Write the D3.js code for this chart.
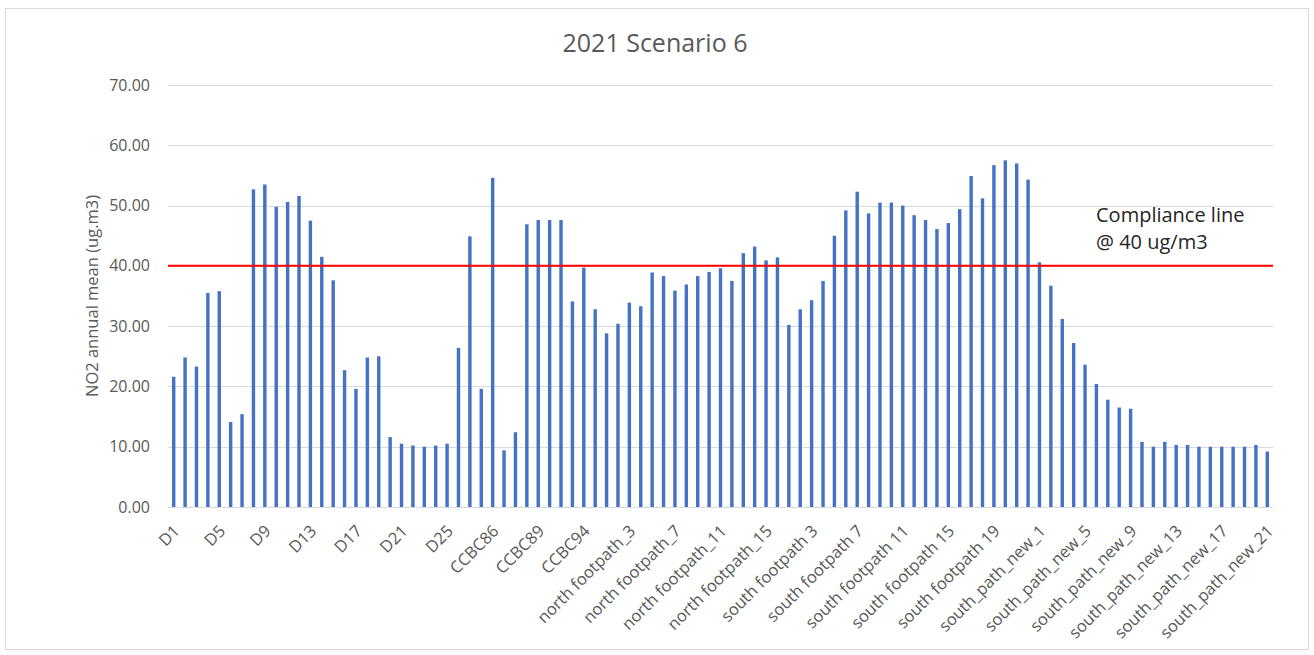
<!DOCTYPE html>
<html>
<head>
<meta charset="utf-8">
<script src="https://cdn.jsdelivr.net/npm/d3@7"></script>
<style>
  html, body { margin: 0; padding: 0; background: #fff; }
  svg { display: block; font-family: "Open Sans", "Liberation Sans", sans-serif; }
</style>
</head>
<body>
<svg id="chart" width="1314" height="655"></svg>
<script>
// Receptor groups along the route
const dReceptors = d3.range(1, 29).map(i => "D" + i);
const ccbcReceptors = ["CCBC86", "CCBC87", "CCBC87B", "CCBC88", "CCBC89", "CCBC90", "CCBC91", "CCBC93", "CCBC94", "CCBC95"];
const northFootpath = d3.range(1, 17).map(i => "north footpath_" + i);
const southFootpath = d3.range(1, 23).map(i => "south footpath " + i);
const southPathNew = d3.range(1, 22).map(i => "south_path_new_" + i);

const categories = [...dReceptors, ...ccbcReceptors, ...northFootpath, ...southFootpath, ...southPathNew];

// NO2 annual mean concentrations (ug/m3)
const no2Values = [
  21.6, 24.8, 23.3, 35.5, 35.8, 14.1, 15.4, 52.7, 53.5, 49.8,
  50.6, 51.6, 47.5, 41.5, 37.6, 22.7, 19.6, 24.8, 25.0, 11.6,
  10.5, 10.2, 10.0, 10.2, 10.5, 26.4, 44.9, 19.6,
  54.6, 9.4, 12.4, 46.9, 47.6, 47.6, 47.6, 34.1, 39.7, 32.8,
  28.8, 30.4, 33.9, 33.3, 38.9, 38.3, 35.9, 36.9, 38.3, 39.0,
  39.6, 37.5, 42.1, 43.2, 40.9, 41.4,
  30.2, 32.8, 34.3, 37.5, 45.0, 49.2, 52.3, 48.7, 50.5, 50.5,
  50.0, 48.4, 47.6, 46.1, 47.1, 49.4, 54.9, 51.2, 56.7, 57.5,
  57.0, 54.3,
  40.6, 36.7, 31.2, 27.2, 23.6, 20.4, 17.8, 16.5, 16.3, 10.8,
  10.0, 10.8, 10.3, 10.3, 10.0, 10.0, 10.0, 10.0, 10.0, 10.3,
  9.2
];

const yTicks = [0, 10, 20, 30, 40, 50, 60, 70];
const complianceLimit = 40;
const chartTitle = "2021 Scenario 6";
const yAxisTitle = "NO2 annual mean (ug.m3)";
const complianceText = ["Compliance line", "@ 40 ug/m3"];

const data = categories.map((c, i) => ({ name: c, value: no2Values[i] }));

const svg = d3.select("#chart");
const W = 1314, H = 655;
const plot = { left: 168, right: 1273, top: 85, bottom: 507 };

// Outer chart frame
svg.append("rect")
  .attr("x", 5.5).attr("y", 8.5)
  .attr("width", W - 11).attr("height", H - 14)
  .attr("fill", "#fff").attr("stroke", "#d9d9d9").attr("stroke-width", 1);

const x = d3.scaleBand()
  .domain(categories)
  .range([plot.left, plot.right])
  .paddingInner(0.7)
  .paddingOuter(0.35);

const y = d3.scaleLinear()
  .domain([0, 70])
  .range([plot.bottom, plot.top]);

// Horizontal gridlines
svg.append("g")
  .selectAll("line")
  .data(yTicks)
  .join("line")
  .attr("x1", plot.left).attr("x2", plot.right)
  .attr("y1", d => Math.round(y(d)) + 0.5)
  .attr("y2", d => Math.round(y(d)) + 0.5)
  .attr("stroke", "#d9d9d9").attr("stroke-width", 1);

// Y axis labels
const yAxis = d3.axisLeft(y).tickValues(yTicks).tickFormat(d3.format(".2f")).tickSize(0).tickPadding(0);
const yg = svg.append("g")
  .attr("transform", `translate(${plot.left - 18},0)`)
  .call(yAxis);
yg.select(".domain").remove();
yg.selectAll("text")
  .attr("fill", "#595959")
  .style("font-size", "16px")
  .style("font-family", "'Open Sans', sans-serif");

// Bars
svg.append("g")
  .selectAll("rect")
  .data(data)
  .join("rect")
  .attr("x", d => x(d.name))
  .attr("width", x.bandwidth())
  .attr("y", d => y(d.value))
  .attr("height", d => y(0) - y(d.value))
  .attr("fill", "#4472c4");

// X axis labels: every fourth category
const xAxis = d3.axisBottom(x)
  .tickValues(categories.filter((c, i) => i % 4 === 0))
  .tickSize(0)
  .tickPadding(0);
const xg = svg.append("g")
  .attr("transform", `translate(0,${plot.bottom})`)
  .call(xAxis);
xg.select(".domain").remove();
xg.selectAll("text")
  .attr("fill", "#595959")
  .style("font-size", "16.5px")
  .style("font-family", "'Open Sans', sans-serif")
  .attr("text-anchor", "end")
  .attr("dy", "0.35em")
  .attr("y", 0)
  .attr("transform", "translate(3,21) rotate(-45)");

// Compliance line
svg.append("line")
  .attr("x1", plot.left).attr("x2", plot.right)
  .attr("y1", y(complianceLimit)).attr("y2", y(complianceLimit))
  .attr("stroke", "#ff0000").attr("stroke-width", 2);

// Compliance annotation
const note = svg.append("text")
  .attr("x", 1096).attr("y", 222)
  .attr("fill", "#262626")
  .style("font-size", "20px");
note.selectAll("tspan")
  .data(complianceText)
  .join("tspan")
  .attr("x", 1096)
  .attr("dy", (d, i) => i === 0 ? 0 : 27)
  .text(d => d);

// Title
svg.append("text")
  .attr("x", 655).attr("y", 52)
  .attr("text-anchor", "middle")
  .attr("fill", "#595959")
  .style("font-size", "25px")
  .text(chartTitle);

// Y axis title
svg.append("text")
  .attr("transform", `translate(98,${(plot.top + plot.bottom) / 2}) rotate(-90)`)
  .attr("text-anchor", "middle")
  .attr("fill", "#595959")
  .style("font-size", "16.5px")
  .text(yAxisTitle);
</script>
</body>
</html>
